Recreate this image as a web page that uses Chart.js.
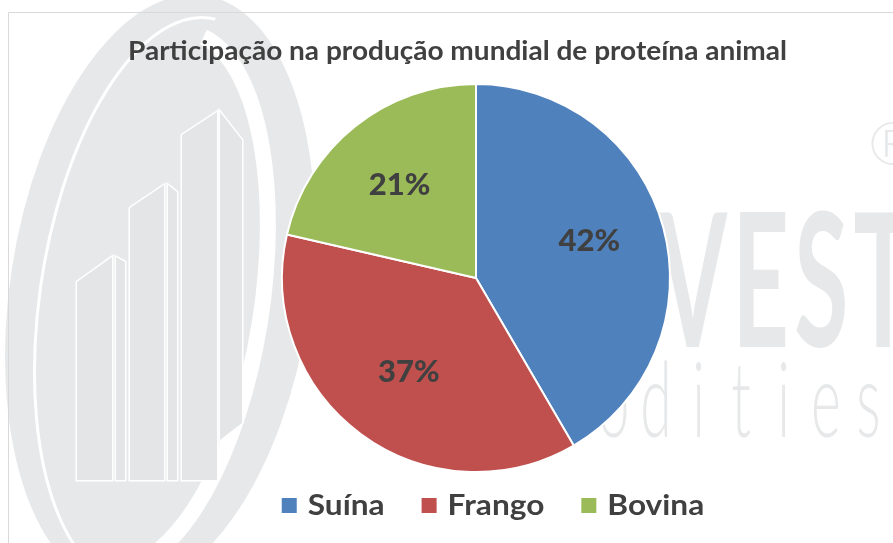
<!DOCTYPE html>
<html><head><meta charset="utf-8">
<script src="https://cdn.jsdelivr.net/npm/chart.js@4"></script>
<style>html,body{margin:0;padding:0;background:#fff;overflow:hidden}#wrap{width:893px;height:543px}</style>
</head><body><div id="wrap"><canvas id="c" width="893" height="543"></canvas></div>
<script>
const chartTitle = 'Participação na produção mundial de proteína animal';
const categories = ['Suína', 'Frango', 'Bovina'];
const shares = [41.6, 37.0, 21.4];
const sliceColors = ['#4F81BD', '#C0504D', '#9BBB59'];
const watermarkWord = 'INVEST';
const watermarkSub = 'commodities';

const TEXT = '#404040';
const WM = '#E7E8E9';

const backgroundPlugin = {
  id: 'bg',
  beforeDraw(chart) {
    const ctx = chart.ctx;
    ctx.save();
    ctx.fillStyle = '#fff';
    ctx.fillRect(0, 0, chart.width, chart.height);
    // watermark swoosh
    ctx.fillStyle = WM;
    ctx.beginPath(); ctx.ellipse(160, 292, 150, 300, 0.15, 0, Math.PI * 2); ctx.fill();
    // white gap crescent on the right side
    ctx.strokeStyle = '#fff'; ctx.lineWidth = 16;
    ctx.beginPath(); ctx.ellipse(150, 300, 112, 270, 0.15, -1.45, 1.55); ctx.stroke();
    // thin inner line on the left side
    ctx.lineWidth = 3;
    ctx.beginPath(); ctx.ellipse(168, 300, 128, 285, 0.15, 1.45, 4.75); ctx.stroke();
    // bars
    const bars = [
      [[77, 282], [112, 257], [112, 480], [77, 480]],
      [[116, 257], [125, 262], [125, 480], [116, 480]],
      [[130, 208], [164, 185], [164, 480], [130, 480]],
      [[168, 185], [177, 192], [177, 480], [168, 480]],
      [[182, 135], [217, 112], [217, 480], [182, 480]],
      [[220, 112], [242, 140], [242, 423], [220, 440]]
    ];
    ctx.lineWidth = 3;
    ctx.strokeStyle = '#FFFFFF';
    bars.forEach(p => {
      ctx.beginPath(); ctx.moveTo(p[0][0], p[0][1]);
      for (let i = 1; i < p.length; i++) ctx.lineTo(p[i][0], p[i][1]);
      ctx.closePath(); ctx.stroke();
    });
    ctx.fillStyle = '#E4E5E6';
    bars.forEach(p => {
      ctx.beginPath(); ctx.moveTo(p[0][0], p[0][1]);
      for (let i = 1; i < p.length; i++) ctx.lineTo(p[i][0], p[i][1]);
      ctx.closePath(); ctx.fill();
    });
    // watermark text
    ctx.fillStyle = WM;
    ctx.textBaseline = 'alphabetic';
    ctx.save();
    ctx.font = 'bold 186px Lato';
    ctx.translate(918, 347);
    ctx.scale(0.53, 1);
    ctx.textAlign = 'right';
    ctx.letterSpacing = '10px';
    ctx.fillText(watermarkWord, 0, 0);
    ctx.restore();
    ctx.font = '300 104px Lato';
    ctx.textAlign = 'center';
    const step = 42.5;
    const dIdx = watermarkSub.indexOf('d');
    for (let i = 0; i < watermarkSub.length; i++) {
      ctx.save();
      ctx.translate(656 + (i - dIdx) * step, 437);
      ctx.scale(0.55, 1);
      ctx.fillText(watermarkSub[i], 0, 0);
      ctx.restore();
    }
    ctx.font = '300 60px Lato';
    ctx.textAlign = 'left';
    ctx.fillText('®', 868, 165);
    // frame
    ctx.strokeStyle = '#D9D9D9'; ctx.lineWidth = 1;
    ctx.beginPath(); ctx.moveTo(8.5, 543); ctx.lineTo(8.5, 12.5); ctx.lineTo(893, 12.5); ctx.stroke();
    ctx.restore();
  }
};

const labelPlugin = {
  id: 'sliceLabels',
  afterDatasetsDraw(chart) {
    const ctx = chart.ctx;
    const meta = chart.getDatasetMeta(0);
    const data = chart.data.datasets[0].data;
    const total = data.reduce((a, b) => a + b, 0);
    ctx.save();
    ctx.font = '900 31px Lato';
    ctx.fillStyle = TEXT;
    ctx.textAlign = 'center';
    ctx.textBaseline = 'middle';
    meta.data.forEach((arc, i) => {
      const p = arc.getProps(['x', 'y', 'startAngle', 'endAngle', 'outerRadius'], true);
      const mid = (p.startAngle + p.endAngle) / 2 - 0.03;
      const r = p.outerRadius * 0.61;
      const txt = Math.round(data[i] / total * 100) + '%';
      ctx.fillText(txt, p.x + Math.cos(mid) * r, p.y + Math.sin(mid) * r - 3);
    });
    ctx.restore();
  }
};

const titleLegendPlugin = {
  id: 'titleLegend',
  afterDraw(chart) {
    const ctx = chart.ctx;
    ctx.save();
    ctx.fillStyle = TEXT;
    ctx.textBaseline = 'alphabetic';
    // title
    ctx.font = 'bold 26px Lato';
    const tw = ctx.measureText(chartTitle).width;
    const sx = 659 / tw;
    ctx.save();
    ctx.translate(457.5, 60);
    ctx.scale(sx, 1);
    ctx.textAlign = 'center';
    ctx.fillText(chartTitle, 0, 0);
    ctx.restore();
    // legend
    ctx.font = 'bold 28px Lato';
    const lsx = 1.13, box = 15, gap = 11, itemGap = 37;
    const widths = chart.data.labels.map(l => ctx.measureText(l).width * lsx);
    const totalW = widths.reduce((a, w) => a + box + gap + w, 0) + itemGap * (widths.length - 1);
    let x = 493 - totalW / 2;
    chart.data.labels.forEach((l, i) => {
      ctx.fillStyle = chart.data.datasets[0].backgroundColor[i];
      ctx.fillRect(x, 498, box, box);
      x += box + gap;
      ctx.fillStyle = TEXT;
      ctx.save();
      ctx.translate(x, 515);
      ctx.scale(lsx, 1);
      ctx.textAlign = 'left';
      ctx.fillText(l, 0, 0);
      ctx.restore();
      x += widths[i] + itemGap;
    });
    ctx.restore();
  }
};

new Chart(document.getElementById('c'), {
  type: 'pie',
  data: {
    labels: categories,
    datasets: [{
      data: shares,
      backgroundColor: sliceColors,
      borderColor: '#FFFFFF',
      borderWidth: 2
    }]
  },
  options: {
    responsive: false,
    animation: false,
    devicePixelRatio: 1,
    layout: { padding: { top: 83, bottom: 70, left: 100, right: 41 } },
    plugins: {
      legend: { display: false },
      title: { display: false },
      tooltip: { enabled: false }
    }
  },
  plugins: [backgroundPlugin, labelPlugin, titleLegendPlugin]
});
</script>
</body></html>
